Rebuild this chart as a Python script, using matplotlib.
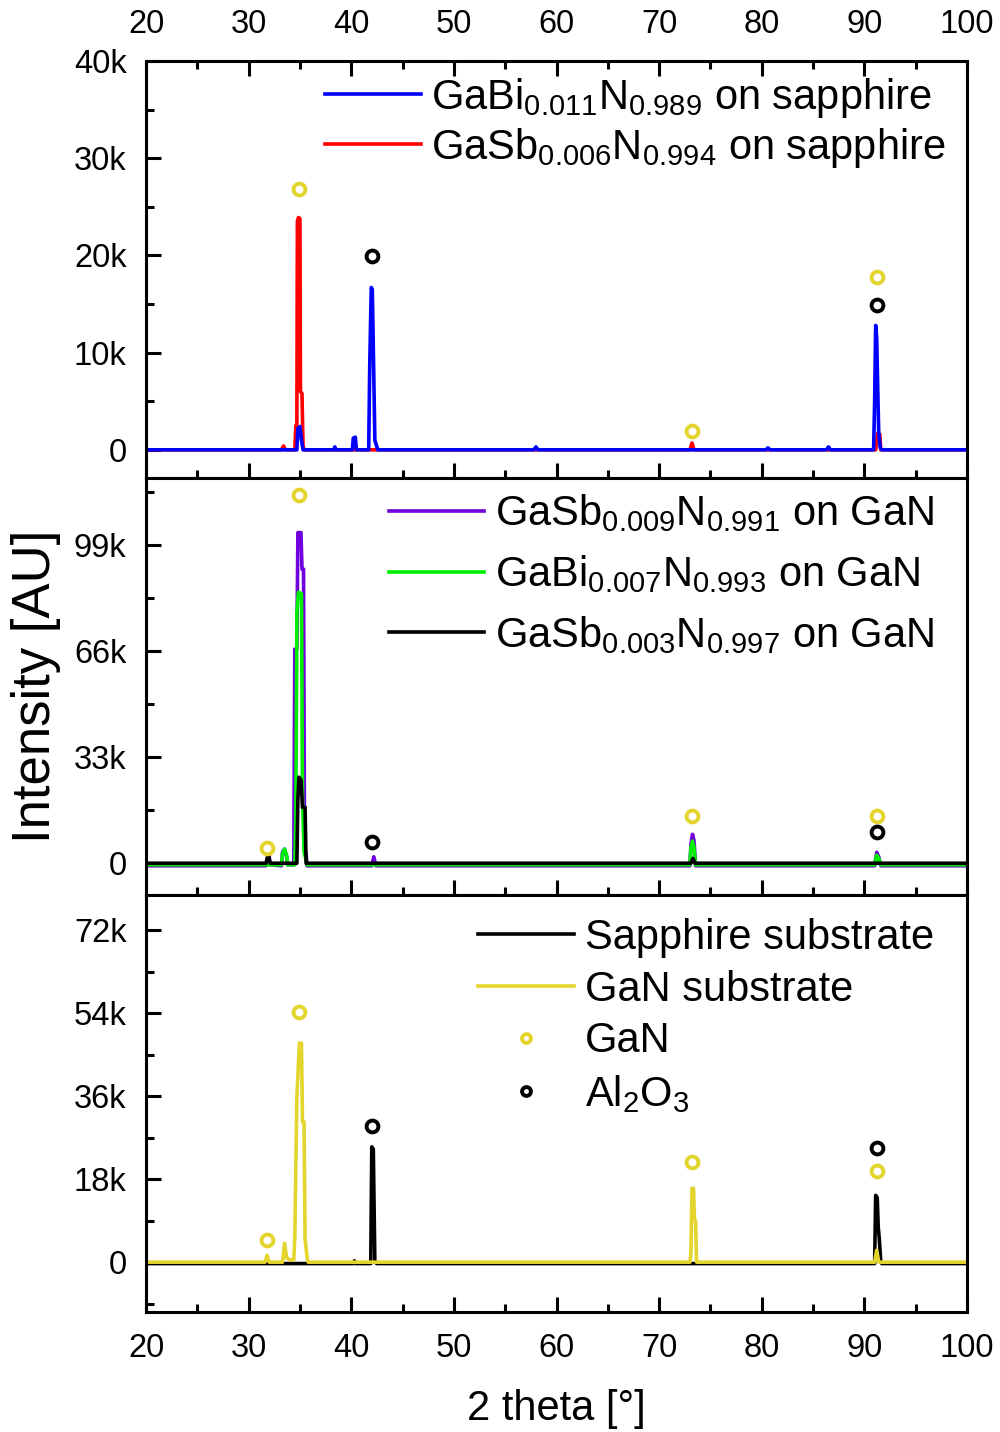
# -*- coding: utf-8 -*-
"""
XRD scans of GaSbN / GaBiN films and substrates, three stacked panels
"""

import numpy as np
import matplotlib
matplotlib.use('Agg')
import matplotlib.pyplot as plt
from matplotlib.ticker import MultipleLocator, FuncFormatter

plt.rcParams['font.family'] = ['Liberation Sans', 'DejaVu Sans']
plt.rcParams['mathtext.fontset'] = 'custom'
plt.rcParams['mathtext.rm'] = 'Liberation Sans'
plt.rcParams['mathtext.it'] = 'Liberation Sans:italic'

#%% data (2 theta in degrees, intensity in counts)

# top panel: films on sapphire
gabi011_x = [20, 34.7, 34.8, 35.0, 35.15, 35.3, 38.3, 38.4, 38.5, 40.1, 40.2,
             40.4, 40.5, 41.7, 41.8, 41.95, 42.05, 42.15, 42.3, 42.5, 42.6,
             57.8, 58.0, 58.2, 80.4, 80.6, 80.8, 86.3, 86.5, 86.7, 90.9,
             91.0, 91.1, 91.2, 91.3, 91.4, 91.55, 91.7, 100]
gabi011_y = [0, 0, 2200, 2400, 1000, 0, 0, 300, 0, 0, 1200,
             1300, 0, 0, 8700, 16700, 16500, 10500, 1000, 300, 0,
             0, 300, 0, 0, 200, 0, 0, 300, 0, 0,
             5000, 12800, 11500, 6400, 1700, 200, 0, 0]

gasb006_x = [20, 33.2, 33.4, 33.6, 34.5, 34.6, 34.7, 34.75, 34.85, 35.0,
             35.05, 35.2, 35.3, 35.4, 73.0, 73.2, 73.4, 91.1, 91.3, 91.5,
             91.6, 100]
gasb006_y = [0, 0, 400, 0, 0, 2500, 2500, 23500, 23900, 23800,
             6000, 5800, 500, 0, 0, 700, 0, 0, 1700, 1600,
             0, 0]

# middle panel: films on GaN
gasb009_x = [20, 31.7, 31.8, 32.0, 32.1, 33.2, 33.3, 33.5, 33.7, 33.8, 34.4,
             34.5, 34.7, 34.8, 35.1, 35.2, 35.35, 35.45, 35.6, 35.7, 42.0,
             42.2, 42.4, 73.0, 73.1, 73.25, 73.4, 73.55, 91.0, 91.2, 91.4,
             91.6, 100]
gasb009_y = [-800, -800, 1500, 2200, -500, -800, 3500, 4400, 2000, -500, -500,
             66700, 66700, 103000, 103000, 91600, 91600, 4000, 3000, -800, -800,
             2000, -800, -800, 6000, 9000, 7000, -800, -800, 3400, 2000,
             -800, -800]

gabi007_x = [20, 33.2, 33.3, 33.5, 33.7, 33.8, 34.5, 34.6, 34.7, 34.85,
             35.15, 35.25, 35.4, 35.6, 35.7, 73.0, 73.1, 73.25, 73.4, 73.55,
             91.0, 91.2, 91.4, 91.6, 100]
gabi007_y = [-500, -500, 3000, 4400, 2500, -500, -500, 13700, 78000, 84400,
             84000, 20000, 3500, 1000, -500, -500, 5000, 6900, 5000, -500,
             -500, 2500, 1500, -500, -500]

gasb003_x = [20, 31.7, 31.9, 32.1, 34.7, 34.8, 34.9, 35.1, 35.25, 35.5,
             35.6, 73.1, 73.3, 73.5, 100]
gasb003_y = [0, 0, 2800, 0, 0, 20000, 26800, 26000, 17400, 17400,
             0, 0, 1500, 0, 0]

# bottom panel: bare substrates
sapphire_x = [20, 40.2, 40.3, 40.4, 41.9, 42.0, 42.15, 42.3, 42.5, 91.0,
              91.1, 91.25, 91.35, 91.45, 91.6, 91.7, 100]
sapphire_y = [-300, -300, 300, -300, -300, 25000, 24500, 0, -300, -300,
              14500, 14000, 7600, 5200, 0, -300, -300]

gan_sub_x = [20, 31.6, 31.8, 32.0, 33.3, 33.5, 33.7, 34.0, 34.4, 34.5, 34.7,
             34.95, 35.15, 35.25, 35.4, 35.5, 35.7, 35.8, 73.0, 73.1, 73.2,
             73.35, 73.45, 73.55, 73.65, 91.0, 91.2, 91.4, 100]
gan_sub_y = [0, 0, 1500, 0, 0, 4100, 1000, 500, 500, 5400, 35800,
             47500, 47500, 30400, 30400, 5000, 1000, 0, 0, 2000, 16000,
             16000, 9100, 9000, 0, 0, 2600, 0, 0]

# reflection markers
gan_mark_x = [[34.9, 73.2, 91.2],
              [31.8, 34.9, 73.2, 91.2],
              [31.8, 34.9, 73.2, 91.2]]
gan_mark_y = [[26800, 1900, 17800],
              [4700, 114600, 14600, 14600],
              [4800, 54200, 21700, 19700]]
al2o3_mark_x = [[42.0, 91.2], [42.0, 91.2], [42.0, 91.2]]
al2o3_mark_y = [[19900, 14900], [6500, 9700], [29500, 24700]]

ylims = [(-2900, 40000), (-9900, 120000), (-10800, 79600)]
ymajor = [10000, 33000, 18000]
yminor = [5000, 16500, 9000]

gan_col = '#e3d52e'
purple = '#7000dd'

#%% figure

fig = plt.figure(figsize=(10, 14.32), dpi=100)
h = 0.2912
bottoms = [0.6662, 0.375, 0.0838]
axes = [fig.add_axes([0.146, b, 0.821, h]) for b in bottoms]

lw = 2.6
axes[0].plot(gasb006_x, gasb006_y, color='red', lw=lw,
             label='GaSb$_\\mathregular{0.006}$N$_\\mathregular{0.994}$ on sapphire')
axes[0].plot(gabi011_x, gabi011_y, color='blue', lw=lw,
             label='GaBi$_\\mathregular{0.011}$N$_\\mathregular{0.989}$ on sapphire')

axes[1].plot(gasb009_x, gasb009_y, color=purple, lw=lw,
             label='GaSb$_\\mathregular{0.009}$N$_\\mathregular{0.991}$ on GaN')
axes[1].plot(gabi007_x, gabi007_y, color='#00ee00', lw=lw,
             label='GaBi$_\\mathregular{0.007}$N$_\\mathregular{0.993}$ on GaN')
axes[1].plot(gasb003_x, gasb003_y, color='black', lw=lw,
             label='GaSb$_\\mathregular{0.003}$N$_\\mathregular{0.997}$ on GaN')

axes[2].plot(sapphire_x, sapphire_y, color='black', lw=lw,
             label='Sapphire substrate')
axes[2].plot(gan_sub_x, gan_sub_y, color=gan_col, lw=lw,
             label='GaN substrate')

for i, ax in enumerate(axes):
    ax.plot(gan_mark_x[i], gan_mark_y[i], 'o', ls='none', ms=8.5, mew=2.8,
            mec=gan_col, mfc='white', label='GaN')
    ax.plot(al2o3_mark_x[i], al2o3_mark_y[i], 'o', ls='none', ms=8.5, mew=2.8,
            mec='black', mfc='white', label='Al$_\\mathregular{2}$O$_\\mathregular{3}$')

    ax.set_xlim(20, 100)
    ax.set_ylim(*ylims[i])
    ax.xaxis.set_major_locator(MultipleLocator(10))
    ax.xaxis.set_minor_locator(MultipleLocator(5))
    ax.yaxis.set_major_locator(MultipleLocator(ymajor[i]))
    ax.yaxis.set_minor_locator(MultipleLocator(yminor[i]))
    ax.yaxis.set_major_formatter(FuncFormatter(
        lambda v, p: '0' if v == 0 else '{:d}k'.format(int(round(v / 1000)))))
    for s in ax.spines.values():
        s.set_linewidth(2.2)
    ax.tick_params(which='both', direction='in', width=2.2, labelsize=23.5,
                   top=(i == 0), right=False, labeltop=(i == 0),
                   labelbottom=(i == 2))
    ax.tick_params(which='major', length=11)
    ax.tick_params(which='minor', length=6)
    ax.tick_params(axis='x', pad=15)
    ax.tick_params(axis='y', pad=14)

# legends, order as in the reference
hdl, lab = axes[0].get_legend_handles_labels()
axes[0].legend([hdl[1], hdl[0]], [lab[1], lab[0]], loc='upper right',
               bbox_to_anchor=(1.0, 1.015), frameon=False, fontsize=30,
               handlelength=2.3, handletextpad=0.25, labelspacing=0.15,
               borderaxespad=0.1)

hdl, lab = axes[1].get_legend_handles_labels()
axes[1].legend(hdl[:3], lab[:3], loc='upper right',
               bbox_to_anchor=(0.985, 1.015), frameon=False, fontsize=30,
               handlelength=2.3, handletextpad=0.25, labelspacing=0.45,
               borderaxespad=0.1)

hdl, lab = axes[2].get_legend_handles_labels()
axes[2].legend(hdl, lab, loc='upper right', bbox_to_anchor=(0.99, 1.005),
               frameon=False, fontsize=30, handlelength=2.3,
               handletextpad=0.25, labelspacing=0.28, borderaxespad=0.2,
               numpoints=1, markerscale=0.75)

fig.text(0.036, 0.521, 'Intensity [AU]', rotation=90, ha='center',
         va='center', fontsize=38)
fig.text(0.556, 0.016, '2 theta [°]', ha='center', va='center', fontsize=30)

fig.savefig('out.png', dpi=100)
